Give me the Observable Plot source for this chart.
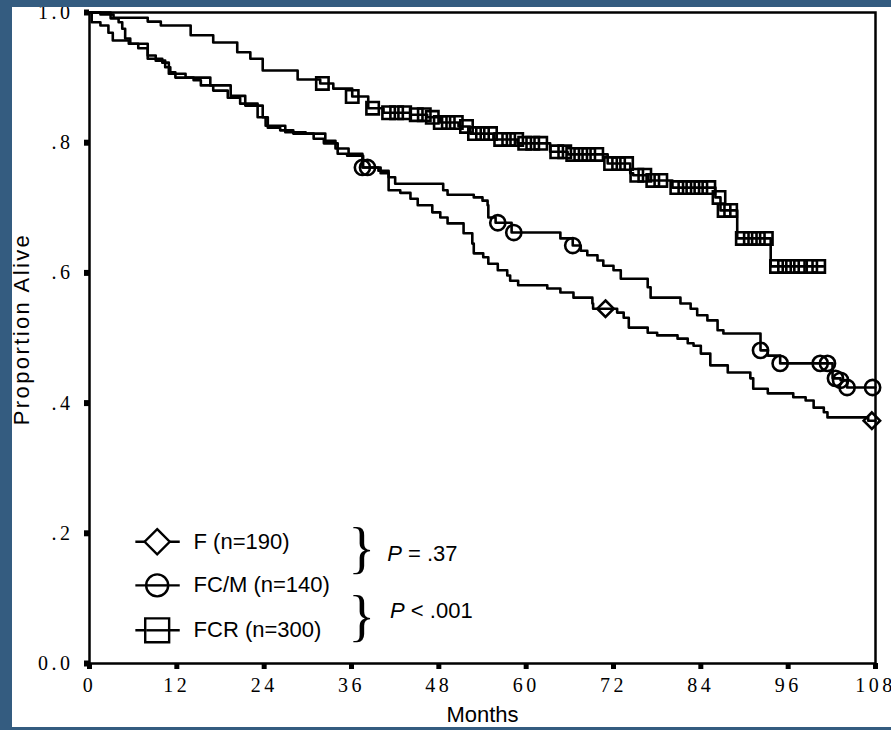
<!DOCTYPE html>
<html><head><meta charset="utf-8">
<script src="https://cdn.jsdelivr.net/npm/d3@7"></script>
<script src="https://cdn.jsdelivr.net/npm/@observablehq/plot@0.6"></script>
<style>
html,body{margin:0;padding:0;background:#345c80;width:891px;height:730px;overflow:hidden}
#panel{position:absolute;left:12px;top:7px;width:879px;height:720px;background:#fff;overflow:hidden}
g[aria-label="x-axis tick label"] text, g[aria-label="y-axis tick label"] text{letter-spacing:3.5px}
</style></head><body><div id="panel"></div>
<script>
// ---- Data ----
const xTicks = [0, 12, 24, 36, 48, 60, 72, 84, 96, 108];
const xTickLabels = ["0", "12", "24", "36", "48", "60", "72", "84", "96", "108"];
const yTicks = [0, 0.2, 0.4, 0.6, 0.8, 1.0];
const yTickLabels = ["0.0", ".2", ".4", ".6", ".8", "1.0"];

const fTime = [0, 0.3, 1.5, 2.6, 3.2, 5.4, 6.7, 8.0, 10.0, 10.9, 13.2, 14.3, 15.3, 17.0, 19.0, 20.7, 23.1, 24.5, 26.2, 28.0, 30.8, 32.2, 34.1, 35.4, 37.6, 40.0, 41.1, 42.7, 44.1, 45.1, 47.1, 48.2, 49.2, 51.4, 52.6, 52.8, 54.1, 54.8, 56.1, 57.4, 57.8, 58.9, 62.9, 64.7, 66.5, 69.1, 69.2, 72.5, 73.4, 74.1, 76.7, 78.0, 80.8, 82.2, 83.0, 84.0, 85.3, 87.7, 90.8, 91.2, 93.2, 96.7, 98.4, 99.5, 100.9, 101.4, 107.0, 108];
const fSurv = [1.0, 0.985, 0.980, 0.969, 0.957, 0.952, 0.945, 0.929, 0.923, 0.906, 0.900, 0.896, 0.888, 0.880, 0.869, 0.860, 0.839, 0.823, 0.819, 0.814, 0.806, 0.799, 0.783, 0.780, 0.762, 0.753, 0.727, 0.723, 0.714, 0.704, 0.693, 0.685, 0.676, 0.661, 0.645, 0.630, 0.624, 0.614, 0.604, 0.596, 0.588, 0.581, 0.576, 0.570, 0.562, 0.553, 0.545, 0.539, 0.531, 0.516, 0.508, 0.504, 0.499, 0.492, 0.488, 0.476, 0.458, 0.447, 0.438, 0.422, 0.415, 0.409, 0.404, 0.393, 0.386, 0.378, 0.373, 0.373];
const fCensor = [70.9, 107.5];

const fcmTime = [0, 2.9, 4.0, 4.5, 4.9, 5.6, 8.0, 9.1, 10.4, 11.1, 11.8, 16.6, 19.4, 21.4, 23.8, 24.2, 26.9, 29.7, 32.4, 33.8, 35.6, 37.5, 39.7, 41.1, 42.0, 48.6, 49.2, 52.8, 54.0, 54.7, 54.8, 55.8, 58.0, 64.7, 66.4, 67.5, 68.4, 69.8, 70.6, 72.0, 73.0, 76.7, 77.1, 81.2, 82.6, 83.5, 84.9, 86.3, 87.1, 92.2, 93.2, 94.9, 102.1, 103.2, 104.1, 108];
const fcmSurv = [1.0, 0.991, 0.985, 0.975, 0.960, 0.952, 0.934, 0.926, 0.916, 0.908, 0.900, 0.888, 0.872, 0.857, 0.839, 0.826, 0.816, 0.814, 0.803, 0.791, 0.783, 0.762, 0.757, 0.747, 0.737, 0.727, 0.720, 0.716, 0.711, 0.704, 0.685, 0.677, 0.662, 0.653, 0.642, 0.634, 0.627, 0.619, 0.611, 0.604, 0.591, 0.578, 0.562, 0.553, 0.545, 0.535, 0.527, 0.512, 0.507, 0.481, 0.473, 0.461, 0.438, 0.435, 0.424, 0.424];
const fcmCensor = [37.5, 38.2, 56.1, 58.3, 66.4, 92.2, 94.9, 100.4, 101.4, 102.5, 103.2, 104.1, 107.6];

const fcrTime = [0, 1.5, 3.3, 8.0, 9.8, 13.9, 17.0, 20.3, 22.1, 23.8, 28.6, 31.7, 33.5, 36.1, 38.3, 40.4, 44.1, 46.4, 48.2, 50.7, 52.3, 55.5, 58.8, 63.3, 65.7, 71.2, 74.3, 74.7, 76.8, 80.1, 86.0, 86.7, 89.0, 93.6, 100.8];
const fcrSurv = [1.0, 0.997, 0.992, 0.986, 0.980, 0.965, 0.954, 0.939, 0.929, 0.911, 0.897, 0.891, 0.883, 0.871, 0.853, 0.846, 0.843, 0.839, 0.831, 0.825, 0.814, 0.805, 0.799, 0.786, 0.782, 0.768, 0.753, 0.750, 0.742, 0.731, 0.716, 0.696, 0.653, 0.610, 0.610];
const fcrCensor = [32.0, 36.1, 38.9, 41.1, 42.2, 43.3, 44.9, 46.0, 47.1, 48.2, 49.3, 50.4, 51.8, 52.9, 54.0, 55.1, 56.5, 57.6, 58.7, 59.8, 60.9, 62.0, 64.2, 65.3, 66.4, 67.5, 68.6, 69.7, 71.6, 72.7, 73.8, 75.2, 76.3, 77.4, 78.5, 80.7, 81.8, 82.9, 84.0, 85.1, 86.5, 87.2, 88.1, 89.7, 90.8, 91.9, 93.0, 94.4, 95.5, 96.6, 97.7, 99.1, 100.2];

const seriesNames = ["F", "FC/M", "FCR"];
const legendLabels = ["F (n=190)", "FC/M (n=140)", "FCR (n=300)"];
const pLabels = ["P = .37", "P < .001"];
const xLabel = "Months";
const yLabel = "Proportion Alive";

// ---- Build tables ----
function stepAt(times, surv, t) {
  let v = surv[0];
  for (let i = 0; i < times.length; i++) { if (times[i] <= t) v = surv[i]; else break; }
  return v;
}
const curves = [[fTime, fSurv, fCensor], [fcmTime, fcmSurv, fcmCensor], [fcrTime, fcrSurv, fcrCensor]];
const lineRows = [];
const censorRows = curves.map(() => []);
curves.forEach(([t, s, c], k) => {
  t.forEach((m, i) => lineRows.push({series: seriesNames[k], month: m, surv: s[i]}));
  c.forEach(m => censorRows[k].push({month: m, surv: stepAt(t, s, m)}));
});

// ---- Layout constants (in data units) ----
const L = {lineX1: 6.3, lineX2: 12.4, markX: 9.3, textX: 14.3, legendY: [0.187, 0.120, 0.051],
  braceX: 37.4, braceY: [0.176, 0.071], pX: [40.9, 41.3], pY: [0.169, 0.081]};
const legendRows = legendLabels.map((label, i) => ({label, y: L.legendY[i]}));
const braceRows = pLabels.map((p, i) => ({x: L.braceX, y: L.braceY[i]}));
const pRows = pLabels.map((p, i) => ({label: p, x: L.pX[i], y: L.pY[i]}));

const sans = "'Liberation Sans', Arial, sans-serif";
const serif = "'Liberation Serif', 'Times New Roman', serif";
const symbols = ["diamond2", "circle", "square"];
const markR = [7.4, 7.6, 7.0];
const legendR = [11.3, 11, 13.5];

const chart = Plot.plot({
  width: 879, height: 720,
  marginLeft: 77, marginTop: 5, marginRight: 16, marginBottom: 64,
  x: {domain: [0, 108]},
  y: {domain: [0, 1]},
  style: {background: "white", color: "black"},
  marks: [
    Plot.frame({stroke: "black", strokeWidth: 2.5}),
    Plot.axisX(xTicks, {tickSize: 6, strokeWidth: 5, tickPadding: 8, label: null,
      tickFormat: d => xTickLabels[xTicks.indexOf(d)], fontSize: 20, fontFamily: serif}),
    Plot.axisY(yTicks, {tickSize: 5, strokeWidth: 6, tickPadding: 11, label: null,
      tickFormat: d => yTickLabels[yTicks.indexOf(d)], fontSize: 20, fontFamily: serif}),
    Plot.line(lineRows, {x: "month", y: "surv", z: "series", curve: "step-after", stroke: "black", strokeWidth: 2.6}),
    ...censorRows.map((rows, k) => Plot.dot(rows, {x: "month", y: "surv", symbol: symbols[k], r: markR[k], fill: "none", stroke: "black", strokeWidth: 2.6})),
    Plot.link(legendRows, {x1: () => L.lineX1, x2: () => L.lineX2, y1: "y", y2: "y", stroke: "black", strokeWidth: 2.4}),
    ...legendRows.map((row, k) => Plot.dot([row], {x: () => L.markX, y: "y", symbol: symbols[k], r: legendR[k], fill: "white", stroke: "black", strokeWidth: 2.4})),
    Plot.link(legendRows.filter((d, i) => i > 0), {x1: () => L.lineX1 + 1.5, x2: () => L.lineX2 - 1.5, y1: "y", y2: "y", stroke: "black", strokeWidth: 2.4}),
    Plot.text(legendRows, {x: () => L.textX, y: "y", text: "label", textAnchor: "start", fontSize: 22, fontFamily: sans, fill: "black"}),
    Plot.text(braceRows, {x: "x", y: "y", text: () => "}", fontSize: 56, fontFamily: serif, fill: "black"}),
    Plot.text(pRows, {x: "x", y: "y", text: "label", textAnchor: "start", fontSize: 22, fontFamily: sans, fill: "black"}),
    Plot.text([xLabel], {frameAnchor: "bottom", dy: 58, fontSize: 22, fontFamily: sans, fill: "black"}),
    Plot.text([yLabel], {frameAnchor: "left", textAnchor: "middle", dx: -68, dy: -9, rotate: -90, fontSize: 22, fontFamily: sans, fill: "black"})
  ]
});
document.getElementById("panel").appendChild(chart);

// italic P in p-values; wider tracking for the y-axis title
d3.select(chart).selectAll("text").filter(function () { return pLabels.includes(this.textContent); }).each(function () {
  const t = this.textContent;
  const sel = d3.select(this);
  sel.text(null);
  sel.append("tspan").attr("font-style", "italic").text(t.slice(0, 1));
  sel.append("tspan").text(t.slice(1));
});
d3.select(chart).selectAll("text").filter(function () { return this.textContent === yLabel; })
  .style("letter-spacing", "2.4px");
</script></body></html>
